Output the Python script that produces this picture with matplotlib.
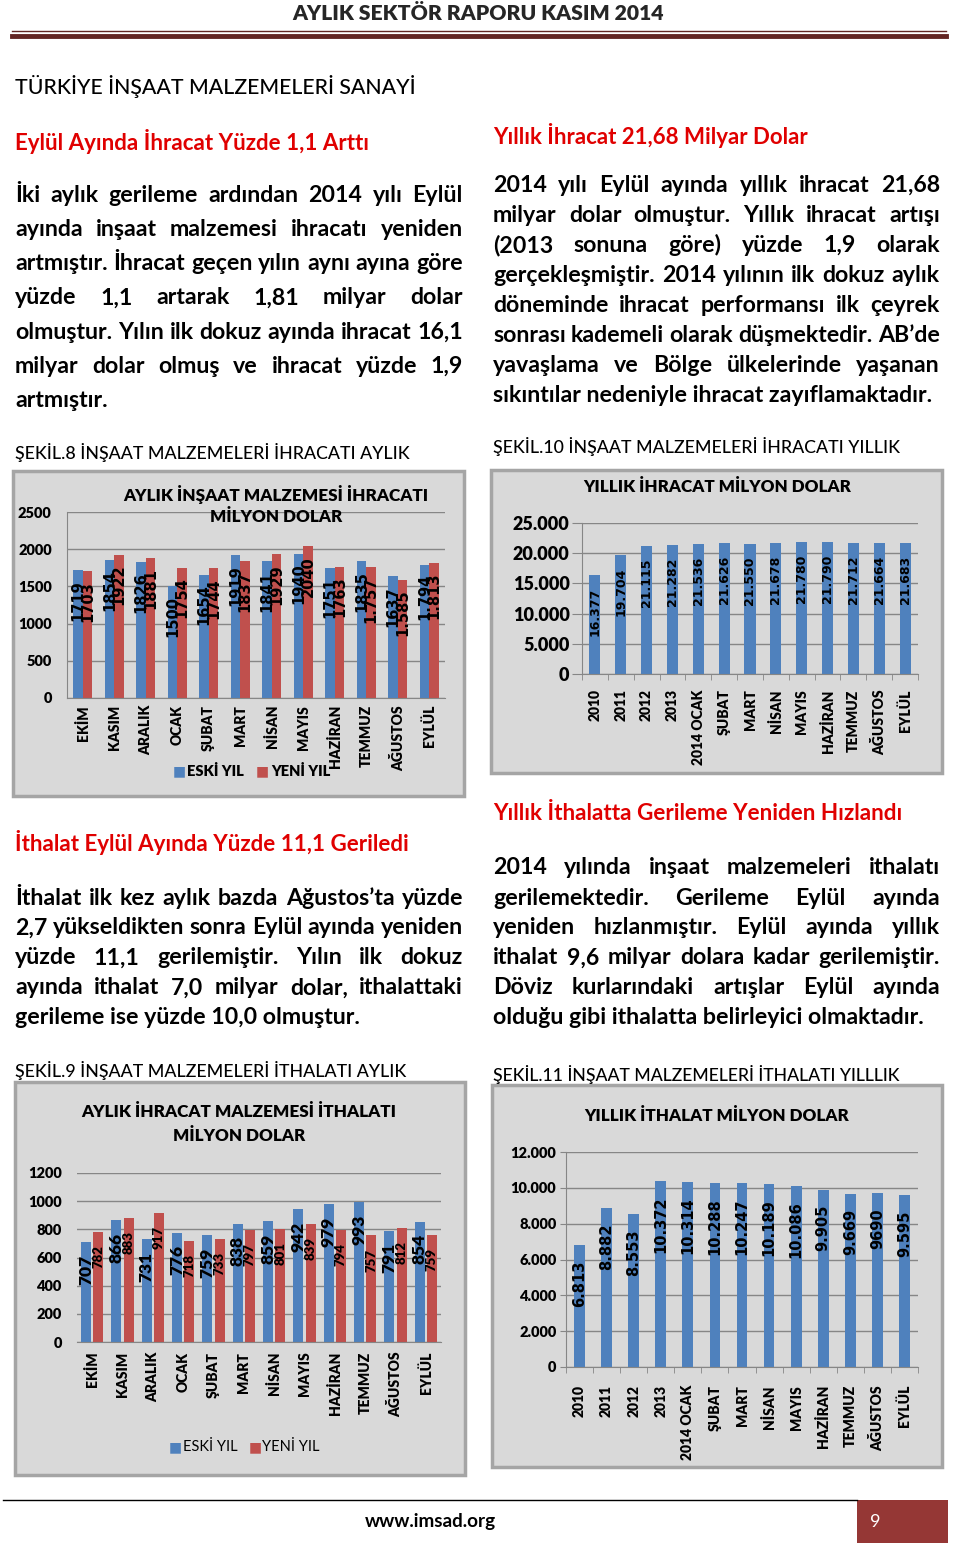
import matplotlib
matplotlib.use('Agg')
import matplotlib.pyplot as plt
import numpy as np
from matplotlib import font_manager as fm
from matplotlib.patches import Rectangle
from matplotlib.lines import Line2D

# ---- data ----
aylar = ['EKİM', 'KASIM', 'ARALIK', 'OCAK', 'ŞUBAT', 'MART', 'NİSAN', 'MAYIS',
         'HAZİRAN', 'TEMMUZ', 'AĞUSTOS', 'EYLÜL']
ihr_eski = [1719, 1854, 1826, 1500, 1654, 1919, 1841, 1940, 1751, 1835, 1637, 1794]
ihr_yeni = [1703, 1922, 1881, 1754, 1744, 1837, 1929, 2040, 1763, 1757, 1585, 1813]
ihr_eski_lbl = ['1719', '1854', '1826', '1500', '1654', '1919', '1841', '1940',
                '1751', '1835', '1637', '1.794']
ihr_yeni_lbl = ['1703', '1922', '1881', '1754', '1744', '1837', '1929', '2040',
                '1763', '1.757', '1.585', '1.813']

donem = ['2010', '2011', '2012', '2013', '2014 OCAK', 'ŞUBAT', 'MART', 'NİSAN',
         'MAYIS', 'HAZİRAN', 'TEMMUZ', 'AĞUSTOS', 'EYLÜL']
yil_ihr = [16377, 19704, 21115, 21282, 21536, 21626, 21550, 21678, 21780, 21790,
           21712, 21664, 21683]
yil_ihr_lbl = ['16.377', '19.704', '21.115', '21.282', '21.536', '21.626', '21.550',
               '21.678', '21.780', '21.790', '21.712', '21.664', '21.683']

ith_eski = [707, 866, 731, 776, 759, 838, 859, 942, 979, 993, 791, 854]
ith_yeni = [782, 883, 917, 718, 733, 797, 801, 839, 794, 757, 812, 759]

yil_ith = [6813, 8882, 8553, 10372, 10314, 10288, 10247, 10189, 10086, 9905,
           9669, 9690, 9595]
yil_ith_lbl = ['6.813', '8.882', '8.553', '10.372', '10.314', '10.288', '10.247',
               '10.189', '10.086', '9.905', '9.669', '9690', '9.595']

# ---- page text ----
para1 = ['İki aylık gerileme ardından 2014 yılı Eylül',
         'ayında inşaat malzemesi ihracatı yeniden',
         'artmıştır. İhracat geçen yılın aynı ayına göre',
         'yüzde 1,1 artarak 1,81 milyar dolar',
         'olmuştur. Yılın ilk dokuz ayında ihracat 16,1',
         'milyar dolar olmuş ve ihracat yüzde 1,9',
         'artmıştır.']
para2 = ['2014 yılı Eylül ayında yıllık ihracat 21,68',
         'milyar dolar olmuştur. Yıllık ihracat artışı',
         '(2013 sonuna göre) yüzde 1,9 olarak',
         'gerçekleşmiştir. 2014 yılının ilk dokuz aylık',
         'döneminde ihracat performansı ilk çeyrek',
         'sonrası kademeli olarak düşmektedir. AB’de',
         'yavaşlama ve Bölge ülkelerinde yaşanan',
         'sıkıntılar nedeniyle ihracat zayıflamaktadır.']
para3 = ['İthalat ilk kez aylık bazda Ağustos’ta yüzde',
         '2,7 yükseldikten sonra Eylül ayında yeniden',
         'yüzde 11,1 gerilemiştir. Yılın ilk dokuz',
         'ayında ithalat 7,0 milyar dolar, ithalattaki',
         'gerileme ise yüzde 10,0 olmuştur.']
para4 = ['2014 yılında inşaat malzemeleri ithalatı',
         'gerilemektedir. Gerileme Eylül ayında',
         'yeniden hızlanmıştır. Eylül ayında yıllık',
         'ithalat 9,6 milyar dolara kadar gerilemiştir.',
         'Döviz kurlarındaki artışlar Eylül ayında',
         'olduğu gibi ithalatta belirleyici olmaktadır.']


def pick_family(cands):
    # first family that really has a bold face installed
    for f in cands:
        try:
            path = fm.findfont(fm.FontProperties(family=f, weight='bold'),
                               fallback_to_default=False)
        except Exception:
            continue
        if 'bold' in path.lower():
            return f
    return 'DejaVu Sans'


W, H = 960, 1547
FAM = pick_family(['Lato', 'Open Sans', 'Roboto', 'Noto Sans', 'Liberation Sans'])
FONT = [FAM, 'DejaVu Sans']
BLUE = '#4F81BD'
RED = '#C0504D'
HEAD_RED = '#E00000'
GRID = '#868686'
CHW = 'heavy'

fig = plt.figure(figsize=(W / 100, H / 100), dpi=100)
fig.patch.set_facecolor('white')
R = fig.canvas.get_renderer()


def txt(x, y, s, **kw):
    kw.setdefault('family', FONT)
    kw.setdefault('va', 'center')
    return fig.text(x / W, 1 - y / H, s, **kw)


def fit(t, width):
    w = t.get_window_extent(R).width
    t.set_fontsize(t.get_fontsize() * width / w)
    return t


def hline(x0, x1, y, **kw):
    fig.add_artist(Line2D([x0 / W, x1 / W], [1 - y / H, 1 - y / H],
                          transform=fig.transFigure, **kw))


def box(x0, y0, x1, y1, **kw):
    fig.add_artist(Rectangle((x0 / W, 1 - y1 / H), (x1 - x0) / W, (y1 - y0) / H,
                             transform=fig.transFigure, zorder=-5, **kw))


# body size: the last line of the second paragraph is 439 px wide
probe = fit(txt(0, -50, para2[-1], fontsize=13, fontweight='bold'), 439)
BODY = probe.get_fontsize()
probe.remove()


def paragraph(lines, x0, x1, y0, dy):
    for i, line in enumerate(lines):
        y = y0 + i * dy
        if i == len(lines) - 1:
            txt(x0, y, line, fontsize=BODY, fontweight='bold')
            continue
        words = line.split()
        ts = [txt(x0, y, w, fontsize=BODY, fontweight='bold') for w in words]
        ws = [t.get_window_extent(R).width for t in ts]
        gap = (x1 - x0 - sum(ws)) / (len(words) - 1)
        x = x0
        for t, w in zip(ts, ws):
            t.set_x(x / W)
            x += w + gap


def plain(v):
    return '%d' % v


def dotted(v):
    return '{:,}'.format(int(v)).replace(',', '.')


def make_ax(x0, y0, x1, y1, ymax, step, fmt, ysize):
    ax = fig.add_axes([x0 / W, 1 - y1 / H, (x1 - x0) / W, (y1 - y0) / H])
    ax.set_facecolor('none')
    ax.set_ylim(0, ymax)
    ticks = np.arange(0, ymax + 1, step)
    ax.set_yticks(ticks, [fmt(v) for v in ticks], fontsize=ysize,
                  fontweight=CHW, family=FONT)
    ax.grid(axis='y', color=GRID, lw=1)
    ax.set_axisbelow(True)
    for s in ['top', 'right']:
        ax.spines[s].set_visible(False)
    ax.spines['left'].set_color(GRID)
    ax.spines['bottom'].set_color(GRID)
    return ax


def cat_labels(ax, labels, pad, size=10):
    ax.set_xticks(np.arange(len(labels)), labels, rotation=90, fontsize=size,
                  fontweight=CHW, family=FONT)
    ax.tick_params(axis='x', length=0, pad=pad)


def bar_labels(ax, xs, vals, labels, off, size, family='DejaVu Sans',
               weight='bold'):
    for x, v, s in zip(xs, vals, labels):
        ax.annotate(s, (x, v), xytext=(0, -off), textcoords='offset points',
                    rotation=90, ha='center', va='top', fontsize=size,
                    fontweight=weight, family=family, color='black', zorder=5)


# ---- header ----
fit(txt(478, 13, 'AYLIK SEKTÖR RAPORU KASIM 2014', ha='center', fontsize=14,
        fontweight=CHW, color='#262626'), 372)
hline(12, 946, 31, color='#632523', lw=1)
hline(12, 946, 35.5, color='#632523', lw=3.5)

fit(txt(15, 86, 'TÜRKİYE İNŞAAT MALZEMELERİ SANAYİ', fontsize=15,
        fontweight='medium', color='black'), 402)
fit(txt(15, 141, 'Eylül Ayında İhracat Yüzde 1,1 Arttı', fontsize=14,
        fontweight='bold', color=HEAD_RED), 357)
fit(txt(493, 135, 'Yıllık İhracat 21,68 Milyar Dolar', fontsize=14,
        fontweight='bold', color=HEAD_RED), 317)
paragraph(para1, 15, 463, 195, 34.3)
paragraph(para2, 493, 940, 185, 30)

fit(txt(15, 453, 'ŞEKİL.8 İNŞAAT MALZEMELERİ İHRACATI AYLIK', fontsize=12,
        fontweight='medium'), 392)
fit(txt(493, 447, 'ŞEKİL.10 İNŞAAT MALZEMELERİ İHRACATI YILLIK', fontsize=12,
        fontweight='medium'), 405)

fit(txt(15, 843, 'İthalat Eylül Ayında Yüzde 11,1 Geriledi', fontsize=14,
        fontweight='bold', color=HEAD_RED), 398)
fit(txt(493, 813, 'Yıllık İthalatta Gerileme Yeniden Hızlandı', fontsize=14,
        fontweight='bold', color=HEAD_RED), 414)
paragraph(para3, 15, 463, 898, 30)
paragraph(para4, 493, 940, 868, 30)

fit(txt(15, 1070, 'ŞEKİL.9 İNŞAAT MALZEMELERİ İTHALATI AYLIK', fontsize=12,
        fontweight='medium'), 390)
fit(txt(493, 1075, 'ŞEKİL.11 İNŞAAT MALZEMELERİ İTHALATI YILLLIK', fontsize=12,
        fontweight='medium'), 409)

# ---- chart boxes ----
for b in [(13, 471, 464, 796), (491, 470, 942, 773), (15, 1082, 465, 1475),
          (492, 1085, 942, 1467)]:
    box(*b, facecolor='#D9D9D9', edgecolor='#A5A5A5', lw=2.5)

# ---- Şekil 8: aylık ihracat ----
x = np.arange(len(aylar))
ax1 = make_ax(67, 512, 445, 698, 2500, 500, plain, 10.5)
ax1.set_xlim(-0.5, len(aylar) - 0.5)
ax1.bar(x - 0.15, ihr_eski, 0.3, color=BLUE)
ax1.bar(x + 0.15, ihr_yeni, 0.3, color=RED)
ax1.tick_params(axis='y', length=0, pad=11)
cat_labels(ax1, aylar, 5)
bar_labels(ax1, x - 0.15, ihr_eski, ihr_eski_lbl, 7, 10.5)
bar_labels(ax1, x + 0.15, ihr_yeni, ihr_yeni_lbl, 7, 10.5)
fit(txt(276, 494, 'AYLIK İNŞAAT MALZEMESİ İHRACATI', ha='center', fontsize=12,
        fontweight=CHW), 305)
fit(txt(276, 517, 'MİLYON DOLAR', ha='center', fontsize=12, fontweight=CHW), 132)
txt(179, 771, '■', ha='center', color=BLUE, fontsize=10, family='DejaVu Sans')
txt(187, 771, 'ESKİ YIL', fontsize=10.5, fontweight=CHW)
txt(262, 771, '■', ha='center', color=RED, fontsize=10, family='DejaVu Sans')
txt(271, 771, 'YENİ YIL', fontsize=10.5, fontweight=CHW)

# ---- Şekil 10: yıllık ihracat ----
xd = np.arange(len(donem))
ax2 = make_ax(582, 523, 918, 674, 25000, 5000, dotted, 13)
ax2.set_xlim(-0.5, len(donem) - 0.5)
ax2.bar(xd, yil_ihr, 0.43, color=BLUE)
ax2.tick_params(axis='y', length=7, color=GRID, pad=2)
cat_labels(ax2, donem, 11)
ax2.set_xticks(np.arange(len(donem) + 1) - 0.5, minor=True)
ax2.tick_params(axis='x', which='minor', length=4, color=GRID)
bar_labels(ax2, xd, yil_ihr, yil_ihr_lbl, 9, 9)
fit(txt(717, 487, 'YILLIK İHRACAT MİLYON DOLAR', ha='center', fontsize=12,
        fontweight=CHW), 267)

# ---- Şekil 9: aylık ithalat ----
ax3 = make_ax(77, 1173, 441, 1342, 1200, 200, plain, 10.5)
ax3.set_xlim(-0.5, len(aylar) - 0.5)
ax3.bar(x - 0.2, ith_eski, 0.33, color=BLUE)
ax3.bar(x + 0.2, ith_yeni, 0.33, color=RED)
ax3.spines['left'].set_visible(False)
ax3.tick_params(axis='y', length=0, pad=11)
cat_labels(ax3, aylar, 7)
bar_labels(ax3, x - 0.2, ith_eski, [str(v) for v in ith_eski], 9, 12.5,
           family=FONT, weight=CHW)
bar_labels(ax3, x + 0.2, ith_yeni, [str(v) for v in ith_yeni], 9.5, 9.5,
           family=FONT, weight=CHW)
fit(txt(239, 1112, 'AYLIK İHRACAT MALZEMESİ İTHALATI', ha='center', fontsize=12,
        fontweight=CHW), 315)
fit(txt(239, 1136, 'MİLYON DOLAR', ha='center', fontsize=12, fontweight=CHW), 132)
txt(175, 1447, '■', ha='center', color=BLUE, fontsize=10, family='DejaVu Sans')
txt(183, 1447, 'ESKİ YIL', fontsize=10.5)
txt(255, 1447, '■', ha='center', color=RED, fontsize=10, family='DejaVu Sans')
txt(262, 1447, 'YENİ YIL', fontsize=10.5)

# ---- Şekil 11: yıllık ithalat ----
ax4 = make_ax(566, 1152, 918, 1367, 12000, 2000, dotted, 10.5)
ax4.set_xlim(-0.5, len(donem) - 0.5)
ax4.bar(xd, yil_ith, 0.4, color=BLUE)
ax4.tick_params(axis='y', length=4, color=GRID, pad=3)
cat_labels(ax4, donem, 13)
ax4.set_xticks(np.arange(len(donem) + 1) - 0.5, minor=True)
ax4.tick_params(axis='x', which='minor', length=4, color=GRID)
bar_labels(ax4, xd, yil_ith, yil_ith_lbl, 11, 10.5)
fit(txt(717, 1116, 'YILLIK İTHALAT MİLYON DOLAR', ha='center', fontsize=12,
        fontweight=CHW), 263)

# ---- footer ----
hline(3, 857, 1500, color='black', lw=1)
fit(txt(430, 1522, 'www.imsad.org', ha='center', fontsize=12.5,
        fontweight='bold'), 132)
box(857, 1500, 948, 1543, facecolor='#953735', edgecolor='none')
txt(870, 1522, '9', fontsize=13, color='white')

fig.savefig('out.png', dpi=100)
